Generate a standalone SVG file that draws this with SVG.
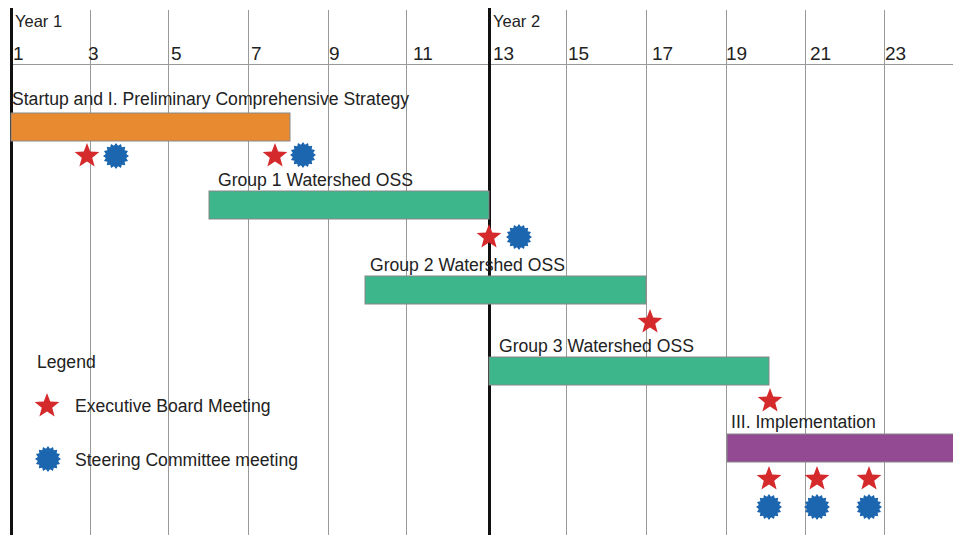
<svg xmlns="http://www.w3.org/2000/svg" xmlns:xlink="http://www.w3.org/1999/xlink" width="953" height="535" viewBox="0 0 953 535">
<style>
text{font-family:"Liberation Sans",Arial,sans-serif;fill:#222}
.lbl{font-size:17.6px}
.num{font-size:19px}
.yr{font-size:16.5px}
.grid{stroke:#999;stroke-width:1}
.thick{stroke:#111;stroke-width:3}
.bar{stroke:#888;stroke-width:1}
</style>
<defs>
<path id="star" fill="#D42A2C" d="M0,-13 L3.23,-4.45 L12.36,-4.02 L5.23,1.7 L7.64,10.52 L0,5.5 L-7.64,10.52 L-5.23,1.7 L-12.36,-4.02 L-3.23,-4.45 Z"/>
<path id="gear" fill="#1C65AF" d="M13,0 10.2,2.03 12.01,4.97 8.64,5.78 9.19,9.19 5.78,8.64 4.97,12.01 2.03,10.2 0,13 -2.03,10.2 -4.97,12.01 -5.78,8.64 -9.19,9.19 -8.64,5.78 -12.01,4.97 -10.2,2.03 -13,0 -10.2,-2.03 -12.01,-4.97 -8.64,-5.78 -9.19,-9.19 -5.78,-8.64 -4.97,-12.01 -2.03,-10.2 0,-13 2.03,-10.2 4.97,-12.01 5.78,-8.64 9.19,-9.19 8.64,-5.78 12.01,-4.97 10.2,-2.03 Z"/>
</defs>
<rect width="953" height="535" fill="#fff"/>
<g id="grid">
<line class="grid" x1="90.5" y1="10" x2="90.5" y2="535"/>
<line class="grid" x1="168.5" y1="10" x2="168.5" y2="535"/>
<line class="grid" x1="248.5" y1="10" x2="248.5" y2="535"/>
<line class="grid" x1="328.5" y1="10" x2="328.5" y2="535"/>
<line class="grid" x1="406.5" y1="10" x2="406.5" y2="535"/>
<line class="grid" x1="566.5" y1="10" x2="566.5" y2="535"/>
<line class="grid" x1="646.5" y1="10" x2="646.5" y2="535"/>
<line class="grid" x1="726.5" y1="10" x2="726.5" y2="535"/>
<line class="grid" x1="805.5" y1="10" x2="805.5" y2="535"/>
<line class="grid" x1="884.5" y1="10" x2="884.5" y2="535"/>
<line class="grid" x1="11" y1="64.5" x2="953" y2="64.5"/>
<line class="thick" x1="11.5" y1="8" x2="11.5" y2="535"/>
<line class="thick" x1="489.5" y1="8" x2="489.5" y2="535"/>
</g>
<g id="axis">
<text class="yr" x="15" y="27">Year 1</text>
<text class="yr" x="493" y="27">Year 2</text>
<text class="num" x="13" y="60">1</text>
<text class="num" x="88" y="60">3</text>
<text class="num" x="171" y="60">5</text>
<text class="num" x="251" y="60">7</text>
<text class="num" x="329" y="60">9</text>
<text class="num" x="413" y="60">11</text>
<text class="num" x="493" y="60">13</text>
<text class="num" x="568" y="60">15</text>
<text class="num" x="652" y="60">17</text>
<text class="num" x="726" y="60">19</text>
<text class="num" x="810" y="60">21</text>
<text class="num" x="885" y="60">23</text>
</g>
<g id="task-startup">
<rect class="bar" x="11" y="113" width="279" height="28" fill="#E88A30"/>
<text class="lbl" x="12" y="105">Startup and I. Preliminary Comprehensive Strategy</text>
</g>
<g id="task-group1">
<rect class="bar" x="209" y="191" width="280" height="28" fill="#3DB68C"/>
<text class="lbl" x="218" y="186">Group 1 Watershed OSS</text>
</g>
<g id="task-group2">
<rect class="bar" x="365" y="276" width="281" height="28" fill="#3DB68C"/>
<text class="lbl" x="370" y="271">Group 2 Watershed OSS</text>
</g>
<g id="task-group3">
<rect class="bar" x="489" y="357" width="280" height="28" fill="#3DB68C"/>
<text class="lbl" x="499" y="352">Group 3 Watershed OSS</text>
</g>
<g id="task-implementation">
<rect class="bar" x="727" y="434" width="230" height="28" fill="#934A92"/>
<text class="lbl" x="731" y="428">III. Implementation</text>
</g>
<g id="milestones">
<use xlink:href="#star" x="87" y="156"/>
<use xlink:href="#gear" x="116" y="156"/>
<use xlink:href="#star" x="275" y="156"/>
<use xlink:href="#gear" x="303" y="155"/>
<use xlink:href="#star" x="489" y="237"/>
<use xlink:href="#gear" x="519" y="237"/>
<use xlink:href="#star" x="650" y="322"/>
<use xlink:href="#star" x="770" y="401"/>
<use xlink:href="#star" x="769" y="479"/>
<use xlink:href="#star" x="817" y="479"/>
<use xlink:href="#star" x="869" y="479"/>
<use xlink:href="#gear" x="769" y="507"/>
<use xlink:href="#gear" x="817" y="507"/>
<use xlink:href="#gear" x="869" y="507"/>
</g>
<g id="legend">
<text class="lbl" x="37" y="368">Legend</text>
<use xlink:href="#star" x="47" y="406"/>
<text class="lbl" x="75" y="412">Executive Board Meeting</text>
<use xlink:href="#gear" x="48" y="459"/>
<text class="lbl" x="75" y="466">Steering Committee meeting</text>
</g>
</svg>
